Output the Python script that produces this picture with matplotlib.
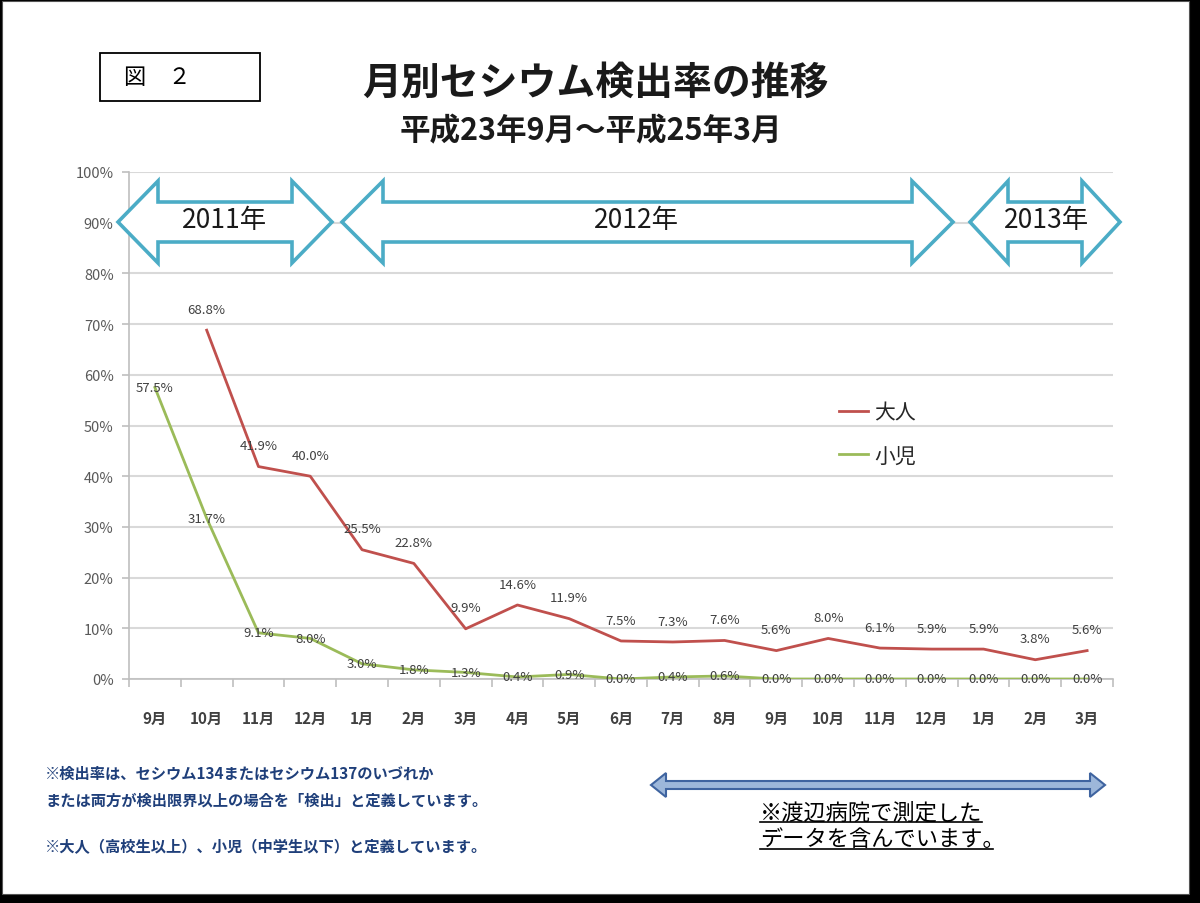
import matplotlib
matplotlib.use("Agg")
import matplotlib.pyplot as plt
from matplotlib.patches import Polygon, Rectangle
import numpy as np

plt.rcParams['font.family'] = ['Noto Sans CJK JP', 'DejaVu Sans']

# data
months = ["9月", "10月", "11月", "12月", "1月", "2月", "3月", "4月", "5月", "6月",
          "7月", "8月", "9月", "10月", "11月", "12月", "1月", "2月", "3月"]
adult = [np.nan, 68.8, 41.9, 40.0, 25.5, 22.8, 9.9, 14.6, 11.9, 7.5,
         7.3, 7.6, 5.6, 8.0, 6.1, 5.9, 5.9, 3.8, 5.6]
child = [57.5, 31.7, 9.1, 8.0, 3.0, 1.8, 1.3, 0.4, 0.9, 0.0,
         0.4, 0.6, 0.0, 0.0, 0.0, 0.0, 0.0, 0.0, 0.0]
years = ["2011年", "2012年", "2013年"]

W, H = 1200, 904


def fx(x):
    return x / W


def fy(y):
    return 1 - y / H


def block_arrow(x0, x1, yc, head_w, head_half, shaft_half):
    pts = [(x0, yc), (x0 + head_w, yc - head_half), (x0 + head_w, yc - shaft_half),
           (x1 - head_w, yc - shaft_half), (x1 - head_w, yc - head_half), (x1, yc),
           (x1 - head_w, yc + head_half), (x1 - head_w, yc + shaft_half),
           (x0 + head_w, yc + shaft_half), (x0 + head_w, yc + head_half)]
    return [(fx(a), fy(b)) for a, b in pts]


fig = plt.figure(figsize=(12, 9.04), dpi=100)
fig.patch.set_facecolor("black")
# slide background
fig.patches.append(Rectangle((fx(2), fy(895)), fx(1189) - fx(2), fy(2) - fy(895),
                             transform=fig.transFigure, facecolor="white",
                             edgecolor="#555555", lw=0.8, zorder=-5))

ax = fig.add_axes([fx(129), fy(680), fx(1113) - fx(129), fy(173) - fy(680)])
ax.set_zorder(2)
ax.set_facecolor("white")
x = np.arange(len(months))
ax.plot(x, adult, color="#C0504D", lw=2.0, label="大人", zorder=3)
ax.plot(x, child, color="#9BBB59", lw=2.0, label="小児", zorder=3)

ax.set_xlim(-0.5, len(months) - 0.5)
ax.set_ylim(0, 100)
ax.set_yticks(np.arange(0, 101, 10))
ax.set_yticklabels([f"{v}%" for v in range(0, 101, 10)], fontsize=10.5, color="#595959")
ax.set_xticks(x)
ax.set_xticklabels(months, fontsize=11, color="#404040", fontweight="bold")
ax.set_xticks(np.arange(-0.5, len(months), 1), minor=True)
ax.tick_params(axis="x", which="major", length=0, pad=22)
ax.tick_params(axis="x", which="minor", length=6, color="#BFBFBF", width=1.2)
ax.tick_params(axis="y", length=5, color="#BFBFBF", width=1.2, pad=6)
ax.grid(axis="y", color="#D9D9D9", lw=1.5, zorder=0)
ax.set_axisbelow(True)
for s in ["top", "right"]:
    ax.spines[s].set_visible(False)
ax.spines["left"].set_color("#BFBFBF")
ax.spines["bottom"].set_color("#BFBFBF")
ax.spines["left"].set_linewidth(1.2)
ax.spines["bottom"].set_linewidth(1.2)

# data labels
for i, v in enumerate(adult):
    if not np.isnan(v):
        ax.annotate(f"{v:.1f}%", (i, v), xytext=(0, 15), textcoords="offset points",
                    ha="center", va="center", fontsize=9.5, color="#404040", zorder=4)
for i, v in enumerate(child):
    ax.annotate(f"{v:.1f}%", (i, v), xytext=(0, 0), textcoords="offset points",
                ha="center", va="center", fontsize=9.5, color="#404040", zorder=4)

leg = ax.legend(loc="upper left", bbox_to_anchor=(fx(820), fy(384)),
                bbox_transform=fig.transFigure, frameon=False, fontsize=15,
                handlelength=1.4, handletextpad=0.3, labelspacing=1.0)
for t in leg.get_texts():
    t.set_color("#262626")

# year arrows (drawn in an overlay axes above the chart)
over = fig.add_axes([0, 0, 1, 1])
over.set_zorder(3)
over.patch.set_visible(False)
over.set_xlim(0, 1)
over.set_ylim(0, 1)
over.axis("off")

arrows = [(118, 332, 40, 225), (342, 953, 41, 636), (970, 1120, 38, 1047)]
for (x0, x1, hw, xc), yr in zip(arrows, years):
    over.add_patch(Polygon(block_arrow(x0, x1, 223, hw, 41, 20), closed=True,
                           facecolor="white", edgecolor="#4BACC6", lw=2.6))
    over.text(fx(xc), fy(221), yr, ha="center", va="center", fontsize=19,
              color="#1A1A1A")

# title block
over.add_patch(Rectangle((fx(100), fy(102)), fx(260) - fx(100), fy(54) - fy(102),
                         facecolor="white", edgecolor="black", lw=1.3))
over.text(fx(124), fy(78), "図　２", ha="left", va="center", fontsize=16, color="black")
over.text(fx(595), fy(83), "月別セシウム検出率の推移", ha="center", va="center",
          fontsize=28, fontweight="bold", color="#1A1A1A")
over.text(fx(591), fy(131), "平成23年9月～平成25年3月", ha="center", va="center",
          fontsize=22, fontweight="bold", color="#1A1A1A")

# notes
note_color = "#1F3F7A"
over.text(fx(45), fy(774), "※検出率は、セシウム134またはセシウム137のいづれか",
          ha="left", va="center", fontsize=11, fontweight="bold", color=note_color)
over.text(fx(45), fy(801), "または両方が検出限界以上の場合を「検出」と定義しています。",
          ha="left", va="center", fontsize=11, fontweight="bold", color=note_color)
over.text(fx(45), fy(847), "※大人（高校生以上）、小児（中学生以下）と定義しています。",
          ha="left", va="center", fontsize=11, fontweight="bold", color=note_color)

over.add_patch(Polygon(block_arrow(651, 1105, 786, 15, 12, 4), closed=True,
                       facecolor="#9DB7DA", edgecolor="#3F64A0", lw=1.5))

t1 = over.text(fx(760), fy(813), "※渡辺病院で測定した", ha="left", va="center",
               fontsize=16, color="black")
t2 = over.text(fx(760), fy(840), "データを含んでいます。", ha="left", va="center",
               fontsize=16, color="black")
fig.canvas.draw()
inv = over.transData.inverted()
for t, trim in ((t1, 0), (t2, 12)):
    bb = t.get_window_extent()
    (a, b), (c, d) = inv.transform([(bb.x0, bb.y0), (bb.x1 - trim, bb.y1)])
    over.plot([a, c], [b + 0.002, b + 0.002], color="black", lw=1.2)

fig.savefig("out.png", dpi=100, facecolor=fig.get_facecolor())
